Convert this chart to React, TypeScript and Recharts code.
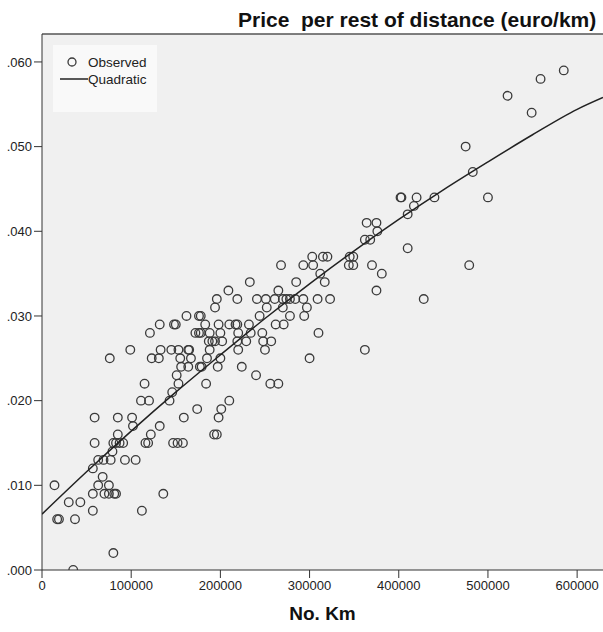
import { ScatterChart, Scatter, XAxis, YAxis, CartesianGrid, Legend, ReferenceLine } from 'recharts';

const chartTitle = 'Price  per rest of distance (euro/km)';
const xTitle = 'No. Km';

const xTicks = [0, 100000, 200000, 300000, 400000, 500000, 600000];
const yTicks = [0, 0.01, 0.02, 0.03, 0.04, 0.05, 0.06];

// observed points
const observedKm = [
    14000, 17000, 19000, 30000, 37000, 43000, 35000, 57000, 57000, 63000,
    68000, 75000, 70000, 75000, 81000, 83000, 57000, 63000, 69000, 77000,
    79000, 59000, 80000, 83000, 87000, 91000, 85000, 80000, 93000, 105000,
    112000, 136000, 102000, 116000, 119000, 122000, 132000, 147000, 152000, 158000,
    159000, 59000, 85000, 101000, 76000, 99000, 115000, 111000, 120000, 121000,
    132000, 123000, 131000, 133000, 145000, 148000, 150000, 162000, 153000, 164000,
    165000, 155000, 167000, 156000, 164000, 151000, 153000, 146000, 143000, 172000,
    176000, 176000, 177000, 174000, 364000, 375000, 376000, 362000, 368000, 303000,
    315000, 320000, 345000, 349000, 293000, 304000, 344000, 349000, 268000, 370000,
    381000, 312000, 233000, 285000, 317000, 375000, 209000, 265000, 196000, 219000,
    241000, 251000, 261000, 270000, 274000, 278000, 284000, 293000, 309000, 323000,
    194000, 252000, 270000, 297000, 178000, 244000, 278000, 294000, 183000, 198000,
    210000, 217000, 219000, 232000, 262000, 271000, 178000, 188000, 200000, 220000,
    234000, 247000, 310000, 187000, 191000, 194000, 202000, 219000, 229000, 248000,
    257000, 188000, 220000, 250000, 362000, 185000, 200000, 300000, 179000, 197000,
    224000, 240000, 256000, 265000, 184000, 210000, 201000, 198000, 193000, 196000,
    585000, 559000, 522000, 549000, 475000, 483000, 500000, 402000, 420000, 440000,
    417000, 410000, 410000, 479000, 428000, 403000,
];
const observedPrice = [
    0.010, 0.006, 0.006, 0.008, 0.006, 0.008, 0.000, 0.007, 0.009, 0.010,
    0.011, 0.010, 0.009, 0.009, 0.009, 0.009, 0.012, 0.013, 0.013, 0.013,
    0.014, 0.015, 0.015, 0.015, 0.015, 0.015, 0.016, 0.002, 0.013, 0.013,
    0.007, 0.009, 0.017, 0.015, 0.015, 0.016, 0.017, 0.015, 0.015, 0.015,
    0.018, 0.018, 0.018, 0.018, 0.025, 0.026, 0.022, 0.020, 0.020, 0.028,
    0.029, 0.025, 0.025, 0.026, 0.026, 0.029, 0.029, 0.030, 0.026, 0.026,
    0.026, 0.025, 0.025, 0.024, 0.024, 0.023, 0.022, 0.021, 0.020, 0.028,
    0.028, 0.030, 0.024, 0.019, 0.041, 0.041, 0.040, 0.039, 0.039, 0.037,
    0.037, 0.037, 0.037, 0.037, 0.036, 0.036, 0.036, 0.036, 0.036, 0.036,
    0.035, 0.035, 0.034, 0.034, 0.034, 0.033, 0.033, 0.033, 0.032, 0.032,
    0.032, 0.032, 0.032, 0.032, 0.032, 0.032, 0.032, 0.032, 0.032, 0.032,
    0.031, 0.031, 0.031, 0.031, 0.030, 0.030, 0.030, 0.030, 0.029, 0.029,
    0.029, 0.029, 0.029, 0.029, 0.029, 0.029, 0.028, 0.028, 0.028, 0.028,
    0.028, 0.028, 0.028, 0.027, 0.027, 0.027, 0.027, 0.027, 0.027, 0.027,
    0.027, 0.026, 0.026, 0.026, 0.026, 0.025, 0.025, 0.025, 0.024, 0.024,
    0.024, 0.023, 0.022, 0.022, 0.022, 0.020, 0.019, 0.018, 0.016, 0.016,
    0.059, 0.058, 0.056, 0.054, 0.050, 0.047, 0.044, 0.044, 0.044, 0.044,
    0.043, 0.042, 0.038, 0.036, 0.032, 0.044,
];

// quadratic fit curve, read at regular points along the drawn line
const fitKm = [0, 50000, 100000, 150000, 200000, 250000, 300000, 350000, 400000, 450000, 500000, 550000, 600000, 629000];
const fitPrice = [0.0066, 0.0116, 0.0164, 0.0210, 0.0254, 0.0297, 0.0338, 0.0377, 0.0414, 0.0449, 0.0482, 0.0514, 0.0544, 0.0558];

const observed = observedKm.map((km, i) => ({ km, price: observedPrice[i] }));
const fit = fitKm.map((km, i) => ({ km, price: fitPrice[i] }));

const font = '"Liberation Sans", Arial, sans-serif';
const ink = '#222';

const Ring = (props: any) => (
    <circle cx={props.cx} cy={props.cy} r={4.3} fill="none" stroke="#3a3a3a" strokeWidth={1.3} />
);
const NoDot = () => <g />;

const LegendBox = () => (
    <div style={{ width: 104, height: 67, background: '#f9f9f9', fontFamily: font, fontSize: 13.5, color: ink }}>
        <svg width={104} height={67}>
            <circle cx={19} cy={17} r={4} fill="none" stroke="#3a3a3a" strokeWidth={1.3} />
            <text x={35} y={17} dominantBaseline="central" fill={ink}>Observed</text>
            <line x1={7} x2={35} y1={34} y2={34} stroke={ink} strokeWidth={1.5} />
            <text x={35} y={34} dominantBaseline="central" fill={ink}>Quadratic</text>
        </svg>
    </div>
);

export default function App() {
    return (
        <div style={{ position: 'absolute', left: 0, top: 0, width: 603, height: 632, background: '#fff' }}>
            <div style={{ position: 'absolute', left: 238, top: 8, fontFamily: font, fontWeight: 'bold', fontSize: 21, color: '#111', whiteSpace: 'pre' }}>
                {chartTitle}
            </div>
            <ScatterChart width={603} height={632} margin={{ top: 34, right: 0, bottom: 0, left: 0 }}>
                <CartesianGrid horizontal={false} vertical={false} fill="#f0f0f0" fillOpacity={1} />
                <XAxis
                    dataKey="km"
                    type="number"
                    domain={[0, 629000]}
                    ticks={xTicks}
                    allowDataOverflow
                    height={62}
                    tickSize={8}
                    tickMargin={3}
                    stroke="#333"
                    tick={{ fill: ink, fontSize: 13, fontFamily: font }}
                    label={{ value: xTitle, position: 'insideBottom', offset: 12, style: { fontFamily: font, fontWeight: 'bold', fontSize: 19, fill: '#111' } }}
                />
                <YAxis
                    dataKey="price"
                    type="number"
                    domain={[0, 0.0633]}
                    ticks={yTicks}
                    allowDataOverflow
                    width={42}
                    tickSize={8}
                    tickMargin={2}
                    stroke="#333"
                    tick={{ fill: ink, fontSize: 13, fontFamily: font }}
                    tickFormatter={(v: number) => v.toFixed(3).replace(/^0/, '')}
                />
                <ReferenceLine y={0.0633} stroke="#555" strokeWidth={1.5} />
                <Legend
                    layout="vertical"
                    align="center"
                    verticalAlign="middle"
                    content={LegendBox}
                    wrapperStyle={{ left: 53, top: 45, width: 104, height: 67 }}
                />
                <Scatter name="Observed" data={observed} shape={Ring} legendType="circle" isAnimationActive={false} />
                <Scatter
                    name="Quadratic"
                    data={fit}
                    shape={NoDot}
                    line={{ stroke: ink, strokeWidth: 1.5 }}
                    lineType="joint"
                    lineJointType="monotoneX"
                    legendType="line"
                    isAnimationActive={false}
                />
            </ScatterChart>
        </div>
    );
}
